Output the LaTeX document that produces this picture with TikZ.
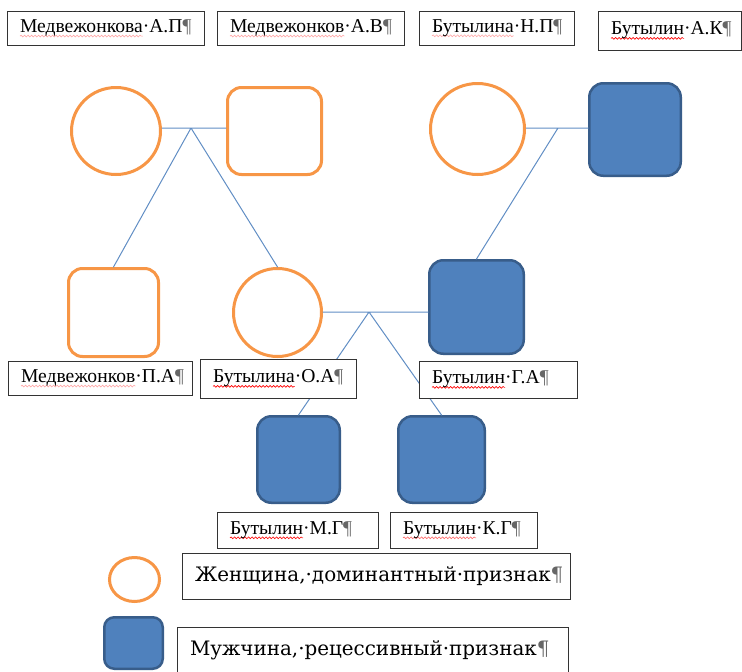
\documentclass[tikz,border=0pt]{standalone}
\usepackage{fontspec}
\setmainfont{Liberation Serif}
\newfontfamily\legfont{DejaVu Serif}
\usetikzlibrary{shapes.geometric,decorations.pathmorphing}
\definecolor{orng}{HTML}{F79646}
\definecolor{blfill}{HTML}{4F81BD}
\definecolor{bldraw}{HTML}{385D8A}
\newsavebox\wbox
\newcommand\wv[2][red]{\sbox\wbox{#2}\rlap{\tikz[overlay]\draw[#1,line width=.6pt,decorate,decoration={snake,amplitude=.9pt,segment length=3.5pt}] (0pt,-3.5pt)--(\the\wd\wbox,-3.5pt);}\usebox\wbox}
\newcommand\pil{\textcolor{black!60}{¶}}
\tikzset{woman/.style={ellipse,draw=orng,line width=3pt,fill=white,inner sep=0pt},
 mandom/.style={rectangle,rounded corners=14pt,draw=orng,line width=3pt,fill=white,inner sep=0pt},
 manrec/.style={rectangle,rounded corners=14pt,draw=bldraw,line width=2.5pt,fill=blfill,inner sep=0pt},
 link/.style={draw=blfill!90,line width=1pt},
 namebox/.style={draw=black!80,fill=white,line width=.9pt,inner xsep=13pt,inner ysep=0pt,align=left,font=\fontsize{19.6}{22}\selectfont}}
\begin{document}
\begin{tikzpicture}[x=1pt,y=-1pt,line cap=round]
\useasboundingbox (0,0) rectangle (742,672);
% first generation
\node[woman,minimum width=89pt,minimum height=87pt] (w1) at (116,131) {};
\node[mandom,minimum width=94pt,minimum height=87pt] (h1) at (274.5,131) {};
\node[woman,minimum width=94pt,minimum height=91pt] (w2) at (477.5,129) {};
\node[manrec,minimum width=91.5pt,minimum height=92.5pt] (h2) at (635,129.5) {};
% second generation
\node[mandom,minimum width=90pt,minimum height=88pt] (s1) at (113.5,312.5) {};
\node[woman,minimum width=88pt,minimum height=88pt] (d1) at (277.5,312.5) {};
\node[manrec,minimum width=94.5pt,minimum height=93.5pt] (s2) at (476.5,307) {};
% third generation
\node[manrec,minimum width=82.5pt,minimum height=86.5pt] (c1) at (298.5,459.5) {};
\node[manrec,minimum width=86.5pt,minimum height=86.5pt] (c2) at (441.5,459.5) {};
% marriages and children
\coordinate (u1) at (191,128); \coordinate (u2) at (558,128); \coordinate (u3) at (369,312);
\draw[link] (w1.east|-u1)--(h1.west|-u1) (u1)--(s1.north) (u1)--(d1.north);
\draw[link] (w2.east|-u2)--(h2.west|-u2) (u2)--(s2.north);
\draw[link] (d1.east|-u3)--(s2.west|-u3) (u3)--(c1.north) (u3)--(c2.north);
% names
\foreach \n/\x/\y/\w/\h/\t in {t1/105.5/28/171/34/{\wv[red!35]{Медвежонкова}·А.П\pil},
 t2/310.5/28/161/34/{\wv[red!35]{Медвежонков}·А.В\pil},
 t3/496.5/28/129/34/{\wv[red!35]{Бутылина}·Н.П\pil},
 t4/669.5/30.5/117/39/{\wv{Бутылин}·А.К\pil},
 t5/100/378/158/34/{\wv[red!35]{Медвежонков}·П.А\pil},
 t6/278/378.5/130/39/{\wv{Бутылина}·О.А\pil},
 t7/498/379.5/132/37/{\wv{Бутылин}·Г.А\pil},
 t8/297.5/530/135/36/{\wv{Бутылин}·М.Г\pil},
 t9/463.5/530/121/36/{\wv[red!60]{Бутылин}·К.Г\pil}}{
 \node[namebox,text width=\w pt,minimum height=\h pt] (\n) at (\x,\y) {\t};}
% legend
\node[woman,minimum width=50pt,minimum height=44pt] (lw) at (134.5,579.5) {};
\node[manrec,rounded corners=10pt,minimum width=58.5pt,minimum height=51.5pt] (lm) at (133.5,643) {};
\node[namebox,font=\legfont\fontsize{19.9}{22}\selectfont,text width=362pt,minimum height=46pt] (l1) at (376,576) {Женщина,·доминантный·признак\pil};
\node[namebox,font=\legfont\fontsize{19.9}{22}\selectfont,text width=365pt,minimum height=46pt] (l2) at (372.5,650) {Мужчина,·рецессивный·признак\pil};
\end{tikzpicture}
\end{document}
